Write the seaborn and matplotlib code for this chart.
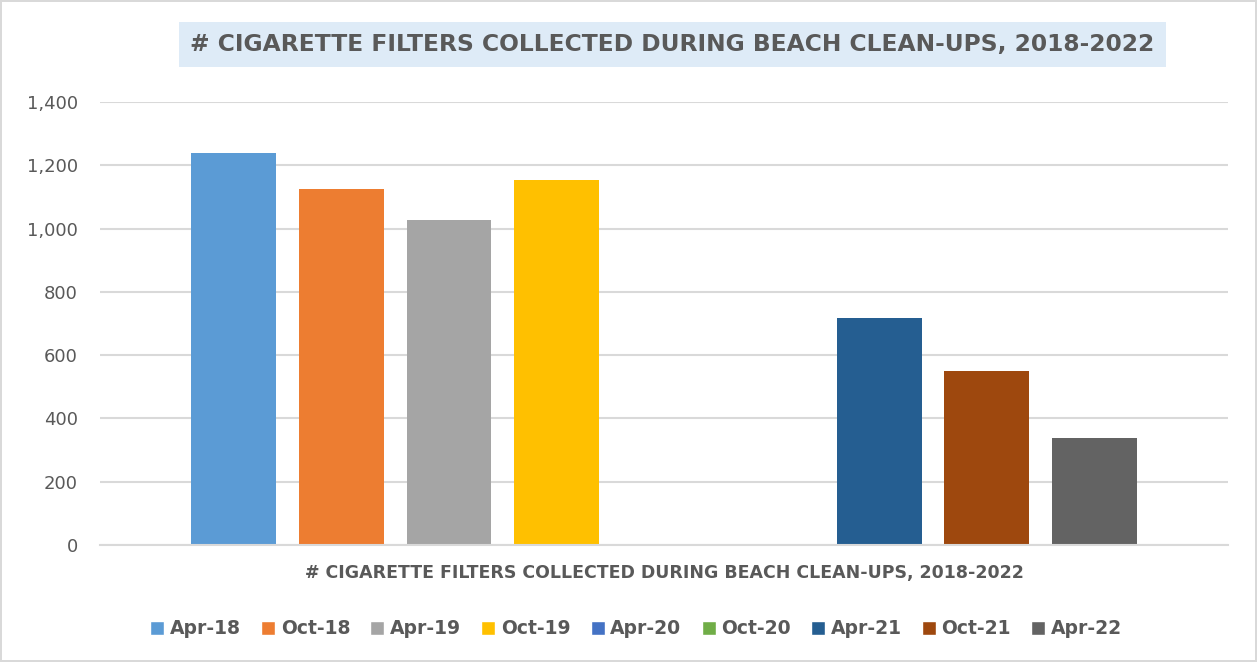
import pandas as pd
import matplotlib
matplotlib.use('Agg')
import matplotlib.pyplot as plt
from matplotlib.patches import Patch
import seaborn as sns

# data
CATEGORY = "# CIGARETTE FILTERS COLLECTED DURING BEACH CLEAN-UPS, 2018-2022"
periods = ['Apr-18', 'Oct-18', 'Apr-19', 'Oct-19', 'Apr-20', 'Oct-20', 'Apr-21', 'Oct-21', 'Apr-22']
counts = [1239, 1125, 1027, 1154, 0, 0, 717, 550, 338]
colors = ['#5B9BD5', '#ED7D31', '#A5A5A5', '#FFC000', '#4472C4',
          '#70AD47', '#255E91', '#9E480E', '#636363']
yticks = [0, 200, 400, 600, 800, 1000, 1200, 1400]

TXT = '#595959'

sns.set_style("white")
plt.rcParams['font.family'] = ['DejaVu Sans']

df = pd.DataFrame({'cat': [CATEGORY] * len(periods), 'period': periods, 'count': counts})

fig = plt.figure(figsize=(12.57, 6.62), dpi=100)
fig.patch.set_edgecolor('#D9D9D9')
fig.patch.set_linewidth(1.5)
ax = fig.add_axes([0.0796, 0.1767, 0.8974, 0.6693])

sns.barplot(data=df, x='cat', y='count', hue='period', hue_order=periods,
            palette=colors, width=0.858, gap=0.21, saturation=1,
            linewidth=0, legend=False, ax=ax)

ax.set_ylim(0, 1400)
ax.set_xlim(-0.5, 0.5)
ax.set_yticks(yticks)
ax.set_yticklabels([f"{v:,}" for v in yticks], fontsize=13, color=TXT)
ax.yaxis.grid(True, color='#D9D9D9', linewidth=1.5)
ax.set_axisbelow(True)
for s in ['top', 'right', 'left']:
    ax.spines[s].set_visible(False)
ax.spines['bottom'].set_color('#D9D9D9')
ax.spines['bottom'].set_linewidth(1.5)
ax.tick_params(axis='y', length=0, pad=16)
ax.tick_params(axis='x', length=0, pad=14)
ax.set_xticks([0])
ax.set_xticklabels([CATEGORY], fontsize=12.5, fontweight='bold', color=TXT)
ax.set_xlabel("")
ax.set_ylabel("")

fig.text(0.535, 0.933, CATEGORY, ha='center', va='center', fontsize=16.8,
         fontweight='bold', color=TXT,
         bbox=dict(facecolor='#DEEBF7', edgecolor='none', pad=8))

handles = [Patch(facecolor=c, label=p) for p, c in zip(periods, colors)]
leg = fig.legend(handles=handles, loc='center', bbox_to_anchor=(0.506, 0.05),
                 ncol=9, frameon=False, handlelength=0.75, handleheight=0.75,
                 handletextpad=0.3, columnspacing=1.07,
                 prop={'size': 13.5, 'weight': 'bold'})
for t in leg.get_texts():
    t.set_color(TXT)

plt.savefig("out.png", dpi=100)
plt.close()
